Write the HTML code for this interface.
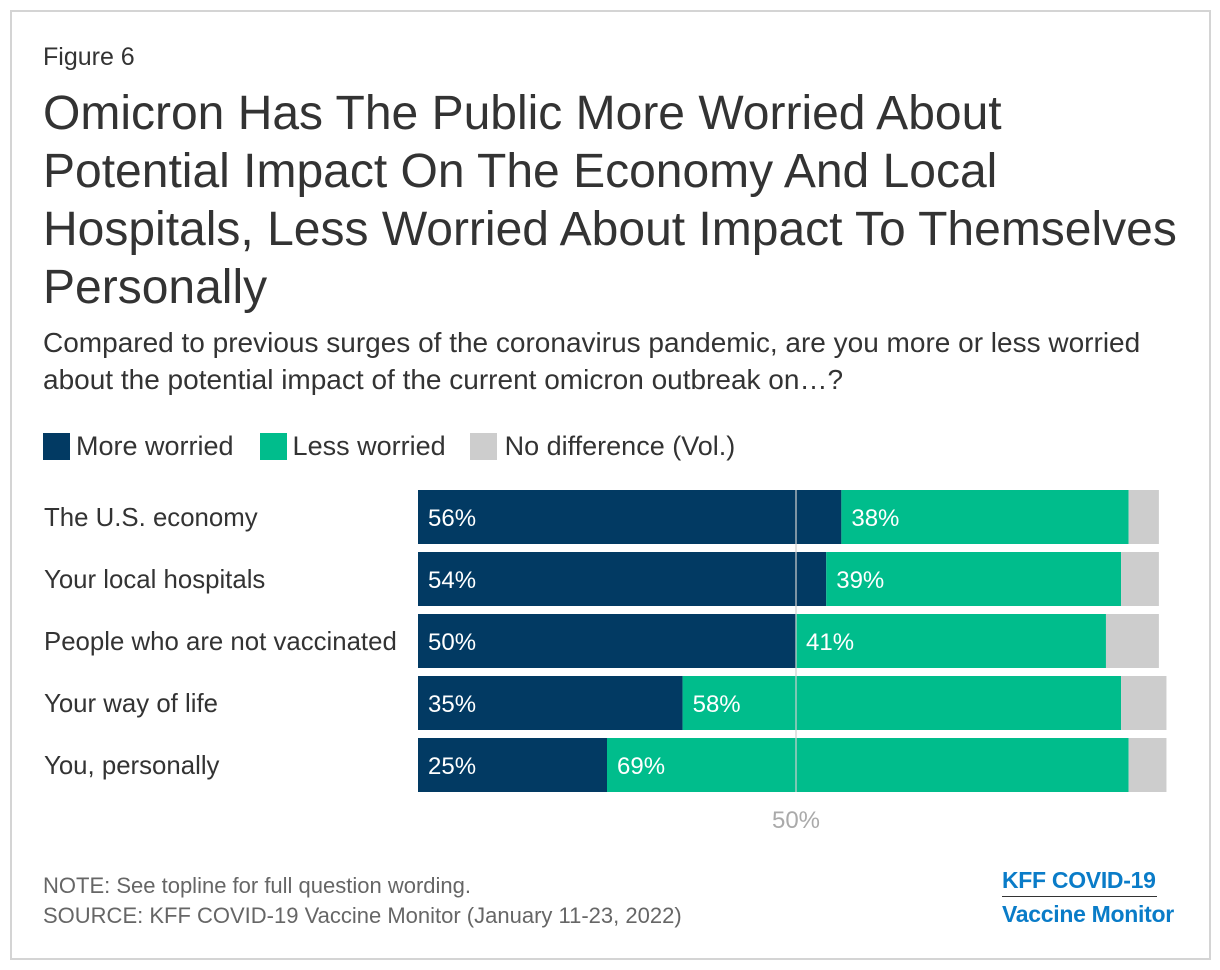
<!DOCTYPE html>
<html><head><meta charset="utf-8"><style>
body{margin:0;width:1220px;height:970px;background:#fff;font-family:"Liberation Sans",sans-serif;position:relative;overflow:hidden}
.frame{position:absolute;left:10px;top:10px;width:1197px;height:946px;border:2px solid #d4d4d4}
.t{position:absolute;white-space:nowrap}
</style></head><body>
<div class="frame"></div>
<div class="t" style="left:43px;top:43px;font-size:25px;color:#333">Figure 6</div>
<div class="t" style="left:43px;top:85px;font-size:48px;line-height:58px;color:#333">Omicron Has The Public More Worried About<br>Potential Impact On The Economy And Local<br>Hospitals, Less Worried About Impact To Themselves<br>Personally</div>
<div class="t" style="left:43px;top:324px;font-size:28px;line-height:37px;color:#333">Compared to previous surges of the coronavirus pandemic, are you more or less worried<br>about the potential impact of the current omicron outbreak on…?</div>
<div class="t" style="left:43px;top:431px;font-size:27px;color:#333;display:flex;align-items:center">
<span style="display:inline-block;width:27px;height:27px;background:#023a63;margin-right:6px"></span><span>More worried</span>
<span style="display:inline-block;width:27px;height:27px;background:#00bd8c;margin:0 6px 0 26px"></span><span>Less worried</span>
<span style="display:inline-block;width:27px;height:27px;background:#cdcdcd;margin:0 8px 0 24px"></span><span>No difference (Vol.)</span>
</div>
<svg id="chart" width="1220" height="970" style="position:absolute;left:0;top:0"></svg>
<div class="t" style="left:43px;top:871px;font-size:22px;line-height:30px;color:#666">NOTE: See topline for full question wording.<br>SOURCE: KFF COVID-19 Vaccine Monitor (January 11-23, 2022)</div>
<div class="t" style="left:1002px;top:866px;font-size:23px;font-weight:bold;color:#0a7cc8;line-height:28px;letter-spacing:-0.3px">KFF COVID-19</div>
<div style="position:absolute;left:1002px;top:896px;width:155px;height:1px;background:#333"></div>
<div class="t" style="left:1002px;top:900px;font-size:23px;font-weight:bold;color:#0a7cc8;line-height:28px;letter-spacing:-0.3px">Vaccine Monitor</div>
<script>
const categories=["The U.S. economy","Your local hospitals","People who are not vaccinated","Your way of life","You, personally"];
const moreWorried=[56,54,50,35,25];
const lessWorried=[38,39,41,58,69];
const noDifference=[4,5,7,6,5];
const refTick=[50];
const svg=document.getElementById('chart');
const NS='http://www.w3.org/2000/svg';
const x0=418,pxPer=7.56;
const xs=v=>x0+v*pxPer;
const rowY=i=>490+i*62, bh=54;
function mk(tag,attrs){const e=document.createElementNS(NS,tag);for(const k in attrs)e.setAttribute(k,attrs[k]);svg.appendChild(e);return e;}
categories.forEach((c,i)=>{
  const y=rowY(i);
  const lab=mk('text',{x:44,y:y+bh/2+9,'font-size':25.8,fill:'#333'});lab.textContent=c;
  
  
  const segs=[[0,moreWorried[i],'#023a63','bar-more-worried'],[moreWorried[i],lessWorried[i],'#00bd8c','bar-less-worried'],[moreWorried[i]+lessWorried[i],noDifference[i],'#cdcdcd','bar-no-difference']];
  segs.forEach(([s,v,col,nm],j)=>{
    const r=mk('rect',{x:xs(s),y:y,width:v*pxPer,height:bh,fill:col});
    
    
    if(j<2){const t=mk('text',{x:xs(s)+10,y:y+bh/2+9,'font-size':24,fill:'#fff'});t.textContent=v+'%';
      
      }
  });
});
refTick.forEach(v=>{
  const l=mk('line',{x1:xs(v),x2:xs(v),y1:490,y2:792,stroke:'#d0d0d0','stroke-width':1.5,opacity:0.8});
  
  
  const t=mk('text',{x:xs(v),y:828,'font-size':24,fill:'#aaa','text-anchor':'middle'});t.textContent=v+'%';
  
  
});
</script>
</body></html>
